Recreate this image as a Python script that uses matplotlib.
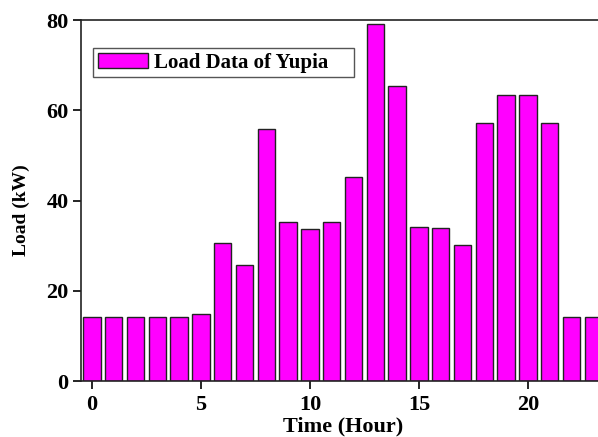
import numpy as np
import matplotlib
matplotlib.use("Agg")
import matplotlib.pyplot as plt

# hourly load
hours = list(range(24))
load = [14.2, 14.2, 14.2, 14.2, 14.2, 14.9, 30.7, 25.7, 55.9, 35.3,
        33.7, 35.3, 45.3, 79.2, 65.3, 34.1, 34.0, 30.2, 57.3, 63.3,
        63.3, 57.1, 14.1, 14.1]
xticks = [0, 5, 10, 15, 20]
yticks = [0, 20, 40, 60, 80]

plt.rcParams['font.family'] = ['Liberation Serif', 'DejaVu Serif']
plt.rcParams['font.weight'] = 'bold'

fig = plt.figure(figsize=(5.98, 4.37), dpi=100)
ax = fig.add_axes([0.1355, 0.128, 0.875, 0.826])

ax.bar(hours, load, width=0.8, color='#ff00ff', edgecolor='#222222',
       linewidth=1.0, label='Load Data of Yupia')

ax.set_xlim(-0.5, 23.5)
ax.set_ylim(0, 80)
ax.set_xticks(xticks)
ax.set_yticks(yticks)
ax.tick_params(axis='both', direction='out', length=6, width=1.2,
               labelsize=16, top=False, right=False)
ax.tick_params(axis='y', pad=3)
ax.tick_params(axis='x', pad=4)
for lbl in ax.get_xticklabels() + ax.get_yticklabels():
    lbl.set_fontweight('bold')
for s in ax.spines.values():
    s.set_linewidth(1.2)
    s.set_color('#222222')

ax.set_xlabel('Time (Hour)', fontsize=16, fontweight='bold', labelpad=1)
ax.set_ylabel('Load (kW)', fontsize=14, fontweight='bold')
ax.yaxis.set_label_coords(-0.097, 0.474)

leg = ax.legend(loc='upper left', bbox_to_anchor=(0.023, 0.922, 0.499, 0.0),
                mode='expand', fontsize=15,
                fancybox=False, framealpha=1, edgecolor='#555555',
                handlelength=2.4, handleheight=0.77, handletextpad=0.3,
                borderpad=0.22, borderaxespad=0)
for t in leg.get_texts():
    t.set_fontweight('bold')

fig.savefig('out.png', dpi=100)
